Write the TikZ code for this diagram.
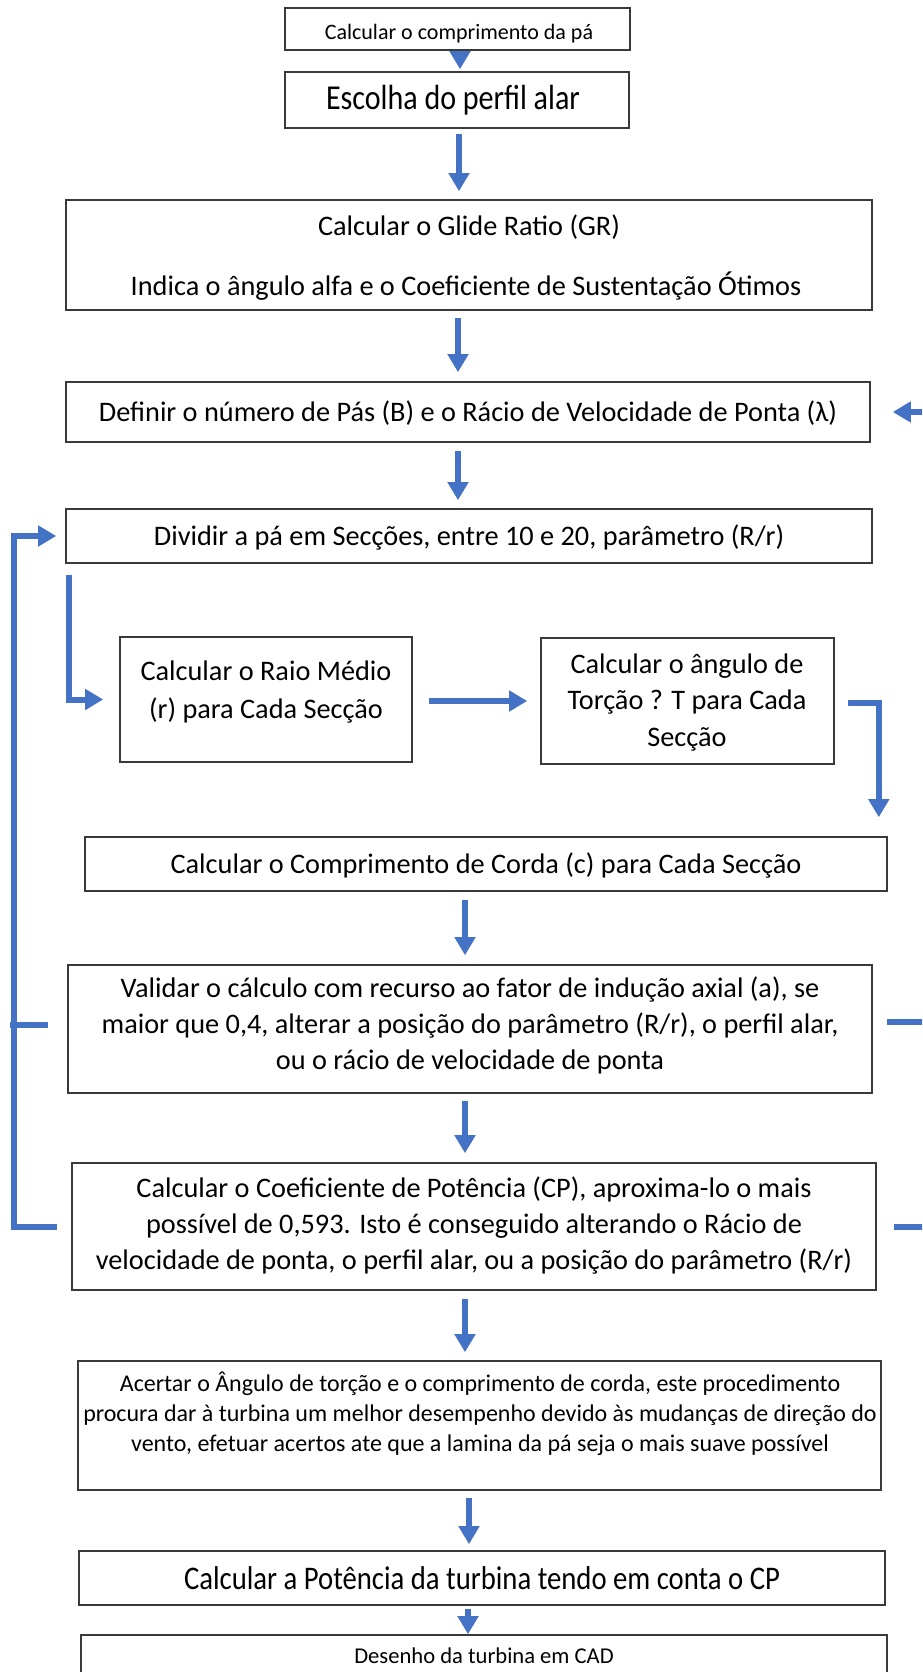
\documentclass[tikz,border=0pt]{standalone}
\usepackage{fontspec}
\setmainfont{Carlito}
\usepackage{graphicx}
\usetikzlibrary{arrows.meta,calc}
\definecolor{arrowblue}{HTML}{4472C4}
\definecolor{boxline}{HTML}{3A3A3A}
\newcommand\fsz[1]{\fontsize{#1}{#1}\selectfont}
\newcommand\hfit[2]{\resizebox{#1}{\height}{#2}}
\begin{document}
\begin{tikzpicture}[x=1pt,y=-1pt,
  box/.style={draw=boxline, line width=1.6pt, inner sep=0pt, rectangle},
  txt/.style={inner sep=0pt, anchor=base, text=black},
  flow/.style={draw=arrowblue, line width=6pt},
  flowarrow/.style={flow, -{Triangle[length=18pt,width=20pt]}}]
\useasboundingbox (0,0) rectangle (922,1672);
\clip (0,0) rectangle (922,1672);
\fill[white] (0,0) rectangle (922,1672);

% boxes
\node[box, minimum width=345pt, minimum height=42pt]  (b1)  at (457.5,29)   {};
\node[box, minimum width=344pt, minimum height=56pt]  (b2)  at (457,100)    {};
\node[box, minimum width=806pt, minimum height=110pt] (b3)  at (469,255)    {};
\node[box, minimum width=804pt, minimum height=60pt]  (b4)  at (468,412)    {};
\node[box, minimum width=806pt, minimum height=54pt]  (b5)  at (469,536)    {};
\node[box, minimum width=292pt, minimum height=125pt] (b6)  at (266,699.5)  {};
\node[box, minimum width=293pt, minimum height=126pt] (b7)  at (687.5,701)  {};
\node[box, minimum width=802pt, minimum height=54pt]  (b8)  at (486,864)    {};
\node[box, minimum width=804pt, minimum height=128pt] (b9)  at (470,1029)   {};
\node[box, minimum width=804pt, minimum height=127pt] (b10) at (474,1226.5) {};
\node[box, minimum width=803pt, minimum height=129pt] (b11) at (479.5,1425.5) {};
\node[box, minimum width=806pt, minimum height=54pt]  (b12) at (482,1578)   {};
\node[box, minimum width=806pt, minimum height=65pt]  (b13) at (484,1667.5) {};

% texts
\node[txt] (t1) at (459,40) {\fsz{22}Calcular o comprimento da pá};
\node[txt] (t2) at (453,110) {\fsz{35}\hfit{254pt}{Escolha do perfil alar}};
\node[txt] (t3a) at (469,235) {\fsz{28.3}Calcular o Glide Ratio (GR)};
\node[txt] (t3b) at (466,295) {\fsz{28.3}Indica o ângulo alfa e o Coeficiente de Sustentação Ótimos};
\node[txt] (t4) at (468,421) {\fsz{28.3}Definir o número de Pás (B) e o Rácio de Velocidade de Ponta (λ)};
\node[txt] (t5) at (469,545) {\fsz{28.3}Dividir a pá em Secções, entre 10 e 20, parâmetro (R/r)};
\node[txt] (t6a) at (266,680) {\fsz{28.3}Calcular o Raio Médio};
\node[txt] (t6b) at (266,718) {\fsz{28.3}(r) para Cada Secção};
\node[txt] (t7a) at (687,673) {\fsz{28.3}Calcular o ângulo de};
\node[txt] (t7b) at (687,709) {\fsz{28.3}Torção ? T para Cada};
\node[txt] (t7c) at (687,746) {\fsz{28.3}Secção};
\node[txt] (t8) at (486,873) {\fsz{28.3}Calcular o Comprimento de Corda (c) para Cada Secção};
\node[txt] (t9a) at (470,997) {\fsz{28.3}Validar o cálculo com recurso ao fator de indução axial (a), se};
\node[txt] (t9b) at (470,1033) {\fsz{28.3}maior que 0,4, alterar a posição do parâmetro (R/r), o perfil alar,};
\node[txt] (t9c) at (470,1069) {\fsz{28.3}ou o rácio de velocidade de ponta};
\node[txt] (t10a) at (474,1197) {\fsz{28.3}Calcular o Coeficiente de Potência (CP), aproxima-lo o mais};
\node[txt] (t10b) at (474,1233) {\fsz{28.3}possível de 0,593. Isto é conseguido alterando o Rácio de};
\node[txt] (t10c) at (474,1269) {\fsz{28.3}velocidade de ponta, o perfil alar, ou a posição do parâmetro (R/r)};
\node[txt] (t11a) at (480,1391) {\fsz{24}Acertar o Ângulo de torção e o comprimento de corda, este procedimento};
\node[txt] (t11b) at (480,1421) {\fsz{24}procura dar à turbina um melhor desempenho devido às mudanças de direção do};
\node[txt] (t11c) at (480,1451) {\fsz{24}vento, efetuar acertos ate que a lamina da pá seja o mais suave possível};
\node[txt] (t12) at (482,1589) {\fsz{33}\hfit{596pt}{Calcular a Potência da turbina tendo em conta o CP}};
\node[txt] (t13) at (484,1663) {\fsz{22.6}Desenho da turbina em CAD};

% main vertical arrows
\draw[flowarrow] ($(b1.south)+(2.5,1)$) -- ($(b2.north)+(3,-2)$);
\draw[flowarrow] ($(b2.south)+(2,5)$) -- ($(b3.north)+(-10,-8)$);
\draw[flowarrow] ($(b3.south)+(-11,7)$) -- ($(b4.north)+(-10,-9)$);
\draw[flowarrow] ($(b4.south)+(-10,8)$) -- ($(b5.north)+(-11,-8)$);
\draw[flowarrow] ($(b8.south)+(-21,8)$) -- ($(b9.north)+(-5,-9)$);
\draw[flowarrow] ($(b9.south)+(-5,7)$) -- ($(b10.north)+(-9,-9)$);
\draw[flowarrow] ($(b10.south)+(-9,8)$) -- ($(b11.north)+(-14.5,-8)$);
\draw[flowarrow] ($(b11.south)+(-10.5,7)$) -- ($(b12.north)+(-13,-6)$);
\draw[flowarrow] ($(b12.south)+(-14,3)$) -- ($(b13.north)+(-16,0)$);

% inner flow
\draw[flowarrow] ($(b5.south west)+(4,11)$) |- ($(b6.west)+(-16,0)$);
\draw[flowarrow] ($(b6.east)+(16,1.5)$) -- ($(b7.west)+(-13,0)$);
\draw[flowarrow] ($(b7.east)+(13,2)$) -| ($(b8.north east)+(-9,-19)$);

% left feedback loop
\coordinate (lx) at (14,0);
\draw[flowarrow] ($(b10.west)+(-14,0)$) -- (lx |- b10.west) -- (lx |- b5.west) -- ($(b5.west)+(-9,0)$);
\draw[flow] ($(b9.west)+(-19,-4)$) -- ($(b9.west)+(-57,-4)$);

% right side
\coordinate (rx) at (935,0);
\draw[flowarrow] (rx |- b4.east) -- ($(b4.east)+(22,0)$);
\draw[flow] ($(b9.east)+(14,-7)$) -- ($(b9.east)+(63,-7)$);
\draw[flow] ($(b10.east)+(17,0)$) -- (rx |- b10.east);
\end{tikzpicture}
\end{document}
